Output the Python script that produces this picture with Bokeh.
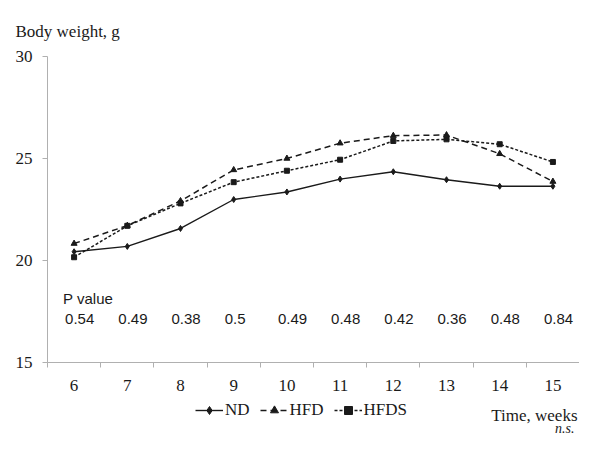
from bokeh.plotting import figure
from bokeh.models import FixedTicker, Label, Legend, LegendItem, Range1d, ColumnDataSource
from bokeh.core.properties import value
from bokeh.embed import file_html
from bokeh.resources import INLINE

# ---- data ----
weeks = [6, 7, 8, 9, 10, 11, 12, 13, 14, 15]
nd = [20.43, 20.69, 21.57, 22.99, 23.36, 23.99, 24.35, 23.96, 23.64, 23.64]
hfd = [20.83, 21.71, 22.92, 24.44, 25.00, 25.75, 26.12, 26.15, 25.23, 23.87]
hfds = [20.16, 21.70, 22.80, 23.84, 24.40, 24.94, 25.86, 25.94, 25.70, 24.83]
p_values = ["0.54", "0.49", "0.38", "0.5", "0.49", "0.48", "0.42", "0.36", "0.48", "0.84"]
y_ticks = [15, 20, 25, 30]

SERIF = "Liberation Serif"
SANS = "Liberation Sans"
AXIS_GRAY = "#b0b0b0"
INK = "#1a1a1a"

W, H = 579, 435
# pixel layout of the plotting area inside the canvas
AX_LEFT, AX_RIGHT, AX_TOP, AX_BOTTOM = 47, 579, 56, 362

x0, x1 = weeks[0] - 0.5, weeks[-1] + 0.5
y0, y1 = y_ticks[0], y_ticks[-1]
xs = (AX_RIGHT - AX_LEFT) / (x1 - x0)
ys = (AX_BOTTOM - AX_TOP) / (y1 - y0)
xr = Range1d(x0 - AX_LEFT / xs, x1 + (W - AX_RIGHT) / xs)
yr = Range1d(y0 - (H - AX_BOTTOM) / ys, y1 + AX_TOP / ys)

p = figure(width=W, height=H, output_backend="svg", toolbar_location=None,
           x_range=xr, y_range=yr,
           min_border_left=0, min_border_right=0, min_border_top=0, min_border_bottom=0)
p.outline_line_color = None
p.grid.visible = False
p.background_fill_color = "white"
p.border_fill_color = "white"

# x axis: labels at week centres, tick marks at boundaries (minor ticks)
boundaries = [w - 0.5 for w in weeks] + [weeks[-1] + 0.5]
p.xaxis.fixed_location = y0
p.xaxis.bounds = (x0, x1)
p.xaxis.ticker = FixedTicker(ticks=weeks, minor_ticks=boundaries)
p.xaxis.major_tick_line_color = None
p.xaxis.major_tick_out = 0
p.xaxis.major_tick_in = 0
p.xaxis.minor_tick_out = 5
p.xaxis.minor_tick_in = 0
p.xaxis.minor_tick_line_color = AXIS_GRAY
p.xaxis.axis_line_color = AXIS_GRAY
p.xaxis.major_label_text_font = SERIF
p.xaxis.major_label_text_font_size = "17px"
p.xaxis.major_label_text_color = INK
p.xaxis.major_label_standoff = 12

p.yaxis.fixed_location = x0
p.yaxis.bounds = (y0, y1)
p.yaxis.ticker = FixedTicker(ticks=y_ticks, minor_ticks=[])
p.yaxis.major_tick_out = 5
p.yaxis.major_tick_in = 0
p.yaxis.major_tick_line_color = AXIS_GRAY
p.yaxis.minor_tick_line_color = None
p.yaxis.axis_line_color = AXIS_GRAY
p.yaxis.major_label_text_font = SERIF
p.yaxis.major_label_text_font_size = "17px"
p.yaxis.major_label_text_color = INK
p.yaxis.major_label_standoff = 10

src = ColumnDataSource(dict(week=weeks, nd=nd, hfd=hfd, hfds=hfds))

l1 = p.line("week", "nd", source=src, line_color=INK, line_width=1.4)
s1 = p.scatter("week", "nd", source=src, marker="diamond", size=6, color=INK)
l2 = p.line("week", "hfd", source=src, line_color=INK, line_width=1.5, line_dash="6 4")
s2 = p.scatter("week", "hfd", source=src, marker="triangle", size=6, color=INK)
l3 = p.line("week", "hfds", source=src, line_color=INK, line_width=1.5, line_dash="3 2")
s3 = p.scatter("week", "hfds", source=src, marker="square", size=5, color=INK)

# P value row
P_ROW_Y = 17.12
P_HEAD_Y = 18.13
p.text(x=weeks, y=[P_ROW_Y] * len(weeks), text=p_values,
       text_font=value(SANS), text_font_size="15px", text_color=INK,
       text_align="left", text_baseline="alphabetic", x_offset=-9)
p.add_layout(Label(x=weeks[0], y=P_HEAD_Y, text="P value", x_offset=-11,
                   text_font=SANS, text_font_size="15px", text_color=INK,
                   text_align="left", text_baseline="alphabetic"))

# Axis titles (pixel offsets from axis corners)
p.add_layout(Label(x=x0, y=y1, text="Body weight, g",
                   x_offset=-32, y_offset=25,
                   text_font=SERIF, text_font_size="17px", text_color=INK,
                   text_align="left", text_baseline="alphabetic"))
p.add_layout(Label(x=x1, y=y0, text="Time, weeks",
                   x_offset=-2, y_offset=-53,
                   text_font=SERIF, text_font_size="17px", text_color=INK,
                   text_align="right", text_baseline="alphabetic"))
p.add_layout(Label(x=x1, y=y0, text="n.s.",
                   x_offset=-5, y_offset=-66,
                   text_font=SERIF, text_font_size="14px", text_font_style="italic",
                   text_color=INK, text_align="right", text_baseline="alphabetic"))

legend = Legend(items=[LegendItem(label="ND", renderers=[l1, s1]),
                       LegendItem(label="HFD", renderers=[l2, s2]),
                       LegendItem(label="HFDS", renderers=[l3, s3])],
                orientation="horizontal", location=(195, 15),
                glyph_width=28, glyph_height=20, label_height=20,
                label_standoff=2, spacing=10, padding=0, margin=0,
                label_text_font=SERIF, label_text_font_size="17px",
                label_text_color=INK,
                border_line_color=None, background_fill_alpha=0)
p.add_layout(legend)

open("out.html", "w").write(file_html(p, INLINE))
